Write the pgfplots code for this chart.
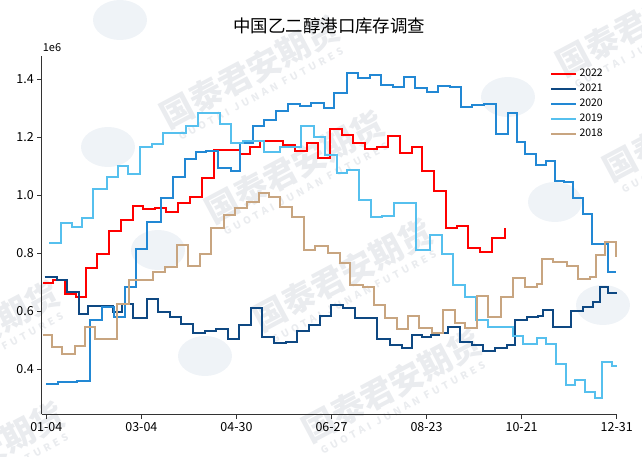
\documentclass[border=0pt]{standalone}
\usepackage{pgfplots}
\pgfplotsset{compat=1.18}
\usepackage{fontspec}
\setmainfont{Noto Sans CJK SC}

\definecolor{c22}{RGB}{255,0,0}
\definecolor{c21}{RGB}{14,72,130}
\definecolor{c20}{RGB}{34,136,212}
\definecolor{c19}{RGB}{86,192,238}
\definecolor{c18}{RGB}{200,165,128}
\definecolor{wmc}{RGB}{234,236,239}
\definecolor{logoc}{RGB}{239,243,247}

% faint company watermark, position in picture pixels
\newcommand\wmark[2]{%
  \node[rotate=28, text=wmc, font=\fontsize{33}{33}\selectfont\bfseries] at (#1,#2) {国泰君安期货};
  \node[rotate=28, text=wmc, font=\fontsize{10}{10}\selectfont\bfseries\addfontfeature{LetterSpace=35}] at ({#1+11},{#2+22}) {GUOTAI JUNAN FUTURES};
}

\begin{document}
\begin{tikzpicture}
\path[use as bounding box] (-41.7bp,-42.7bp) rectangle (600.3bp,414.3bp);

\begin{scope}[x=1bp, y=-1bp, shift={(-41.7bp,414.3bp)}]
  \foreach \cx/\cy in {120/20, 108/147, 508/97, 555/202, 158/250, 205/356, 603/305}
    \fill[logoc] (\cx,\cy) ellipse (27 and 20);
  \wmark{250}{72}
  \wmark{295}{167}
  \wmark{343}{275}
  \wmark{392}{386}
  \wmark{-25}{458}
  \wmark{-30}{337}
  \wmark{646}{20}
  \wmark{693}{125}
\end{scope}

\begin{axis}[
  scale only axis, width=575.3bp, height=358.3bp,
  xmin=-2.9, xmax=360.2, ymin=0.245, ymax=1.48,
  axis x line=bottom, axis y line=left,
  axis line style={-, line width=1.1bp, black!80},
  clip=false,
  xtick={0,60,120,180,240,300,360},
  xticklabels={01-04,03-04,04-30,06-27,08-23,10-21,12-31},
  ytick={0.4,0.6,0.8,1.0,1.2,1.4},
  yticklabels={0.4,0.6,0.8,1.0,1.2,1.4},
  tick align=outside, major tick length=4.5bp,
  tick style={line width=1bp, black!80},
  ticklabel style={font=\fontsize{12.5}{14}\selectfont, black},
  title={中国乙二醇港口库存调查},
  title style={at={(0.5,1)}, anchor=center, yshift=24bp, font=\fontsize{17.5}{20}\selectfont},
  legend style={at={(0.878,0.977)}, anchor=north west, draw=none, fill=none,
    font=\fontsize{10.5}{12}\selectfont, row sep=0pt,
    nodes={inner ysep=2bp, inner xsep=2bp, text height=8bp, text depth=3bp}},
  legend cell align=left,
  legend image code/.code={\draw[#1, line width=2.5bp] (0bp,0bp) -- (25bp,0bp);},
  every axis plot/.append style={line width=2bp, const plot, no markers},
]

\addplot[c22] coordinates {
(-2,0.697) (4.5,0.708) (12,0.658) (19,0.651) (25,0.750) (32,0.797) (39.8,0.878)
(47,0.915) (54.5,0.964) (61,0.953) (68.4,0.957) (75.8,0.944) (83.1,0.975)
(90.5,0.995) (98.3,1.061) (105.8,1.156) (122,1.143) (128.6,1.166) (134.9,1.188)
(149.6,1.173) (157,1.152) (164.3,1.179) (171.7,1.127) (179,1.229) (186.4,1.208)
(193.8,1.179) (201.1,1.160) (208.5,1.168) (215.9,1.205) (223.2,1.145)
(230.6,1.168) (237,1.084) (245,1.015) (252,0.888) (259,0.893) (266,0.819)
(274,0.805) (281,0.854) (289.7,0.886)
};
\addlegendentry{2022}

\addplot[c21] coordinates {
(-1,0.718) (6.5,0.708) (12.9,0.667) (20.7,0.592) (26.5,0.620) (42,0.596)
(48,0.624) (54.5,0.576) (63.5,0.643) (70.8,0.597) (78,0.580) (85.3,0.556)
(92.7,0.525) (100.1,0.533) (107.4,0.539) (114.4,0.504) (121.8,0.552)
(128.9,0.610) (136,0.510) (143.6,0.490) (151.3,0.495) (158.3,0.532)
(165.5,0.552) (172.6,0.583) (180,0.621) (187.5,0.611) (194.8,0.576)
(209,0.503) (216.9,0.484) (224.3,0.474) (230.5,0.517) (237,0.510)
(242.5,0.518) (248,0.526) (253.3,0.547) (261.1,0.495) (268.4,0.484)
(275.8,0.464) (283.2,0.472) (290.5,0.484) (295.8,0.570) (303.1,0.581)
(310.5,0.585) (313.7,0.604) (320,0.545) (330.9,0.602) (338.9,0.614)
(345.2,0.633) (349.4,0.683) (354.7,0.664) (360,0.664)
};
\addlegendentry{2021}

\addplot[c20] coordinates {
(0,0.350) (7.6,0.355) (19.2,0.360) (27.6,0.570) (34.9,0.616) (42.8,0.580)
(49.7,0.685) (56.5,0.815) (63.5,0.907) (72.6,0.989) (80,1.062) (87.3,1.124)
(94.7,1.148) (101,1.154) (108.4,1.093) (116.3,1.084) (122.2,1.179)
(130.2,1.237) (137.5,1.261) (145.2,1.290) (152.5,1.315) (160,1.309)
(167.3,1.319) (175,1.300) (181.8,1.352) (190,1.423) (196.8,1.403) (204,1.414)
(211.5,1.380) (218.7,1.373) (225.5,1.408) (233,1.370) (240.5,1.357)
(247.5,1.375) (255,1.372) (262,1.303) (268.8,1.311) (276,1.316) (284.1,1.211)
(291.5,1.282) (297,1.185) (302.2,1.141) (308.9,1.103) (315.2,1.118)
(321,1.050) (326.8,1.045) (332.6,0.992) (338.5,0.934) (344.7,0.831)
(354.5,0.734) (359.5,0.734)
};
\addlegendentry{2020}

\addplot[c19] coordinates {
(2,0.834) (9.3,0.903) (16,0.892) (22.3,0.923) (29.7,1.020) (38,1.064)
(45.4,1.101) (51.8,1.073) (59.3,1.165) (66.5,1.178) (73.8,1.213) (80.6,1.215)
(88,1.237) (96,1.282) (109.4,1.246) (116.4,1.179) (124.4,1.186) (137.5,1.150)
(147.3,1.165) (161,1.237) (168.8,1.202) (176,1.139) (183.5,1.076) (190,1.087)
(197.2,0.984) (204.7,0.924) (212.1,0.929) (219.4,0.972) (233.5,0.811)
(242,0.862) (249.6,0.797) (256.7,0.691) (264,0.648) (271,0.571) (279,0.547)
(294.6,0.515) (301,0.488) (309.5,0.507) (315.5,0.488) (321.5,0.418)
(328,0.346) (333.7,0.363) (340,0.322) (346.3,0.301) (351,0.425) (357,0.412)
(360,0.412)
};
\addlegendentry{2019}

\addplot[c18] coordinates {
(-2,0.518) (3.4,0.478) (10.2,0.452) (18.1,0.480) (24.4,0.547) (30.7,0.503)
(44.8,0.624) (52.4,0.707) (67.5,0.735) (74.8,0.754) (82.4,0.827) (89.6,0.757)
(97.1,0.799) (104.2,0.886) (111.9,0.932) (119.1,0.955) (126.4,0.978)
(134,1.007) (140.8,0.995) (147.7,0.961) (155.1,0.926) (162.4,0.811)
(169.7,0.825) (178,0.800) (185.4,0.768) (191.7,0.691) (199.7,0.685)
(206.8,0.622) (213.8,0.576) (221.1,0.538) (228.2,0.583) (235.2,0.541)
(243.2,0.524) (250.6,0.604) (257.9,0.559) (264.2,0.541) (271.6,0.653)
(279,0.581) (287,0.650) (294.7,0.714) (302.1,0.685) (309.5,0.694)
(312.6,0.779) (320,0.771) (328.4,0.756) (335.3,0.710) (343.1,0.717)
(346.9,0.794) (352.6,0.840) (357.8,0.840) (359.5,0.788)
};
\addlegendentry{2018}

\node[anchor=south west, inner sep=0pt, xshift=1bp, yshift=4bp,
  font=\fontsize{11}{12}\selectfont] at (rel axis cs:0,1) {1e6};
\end{axis}
\end{tikzpicture}
\end{document}
